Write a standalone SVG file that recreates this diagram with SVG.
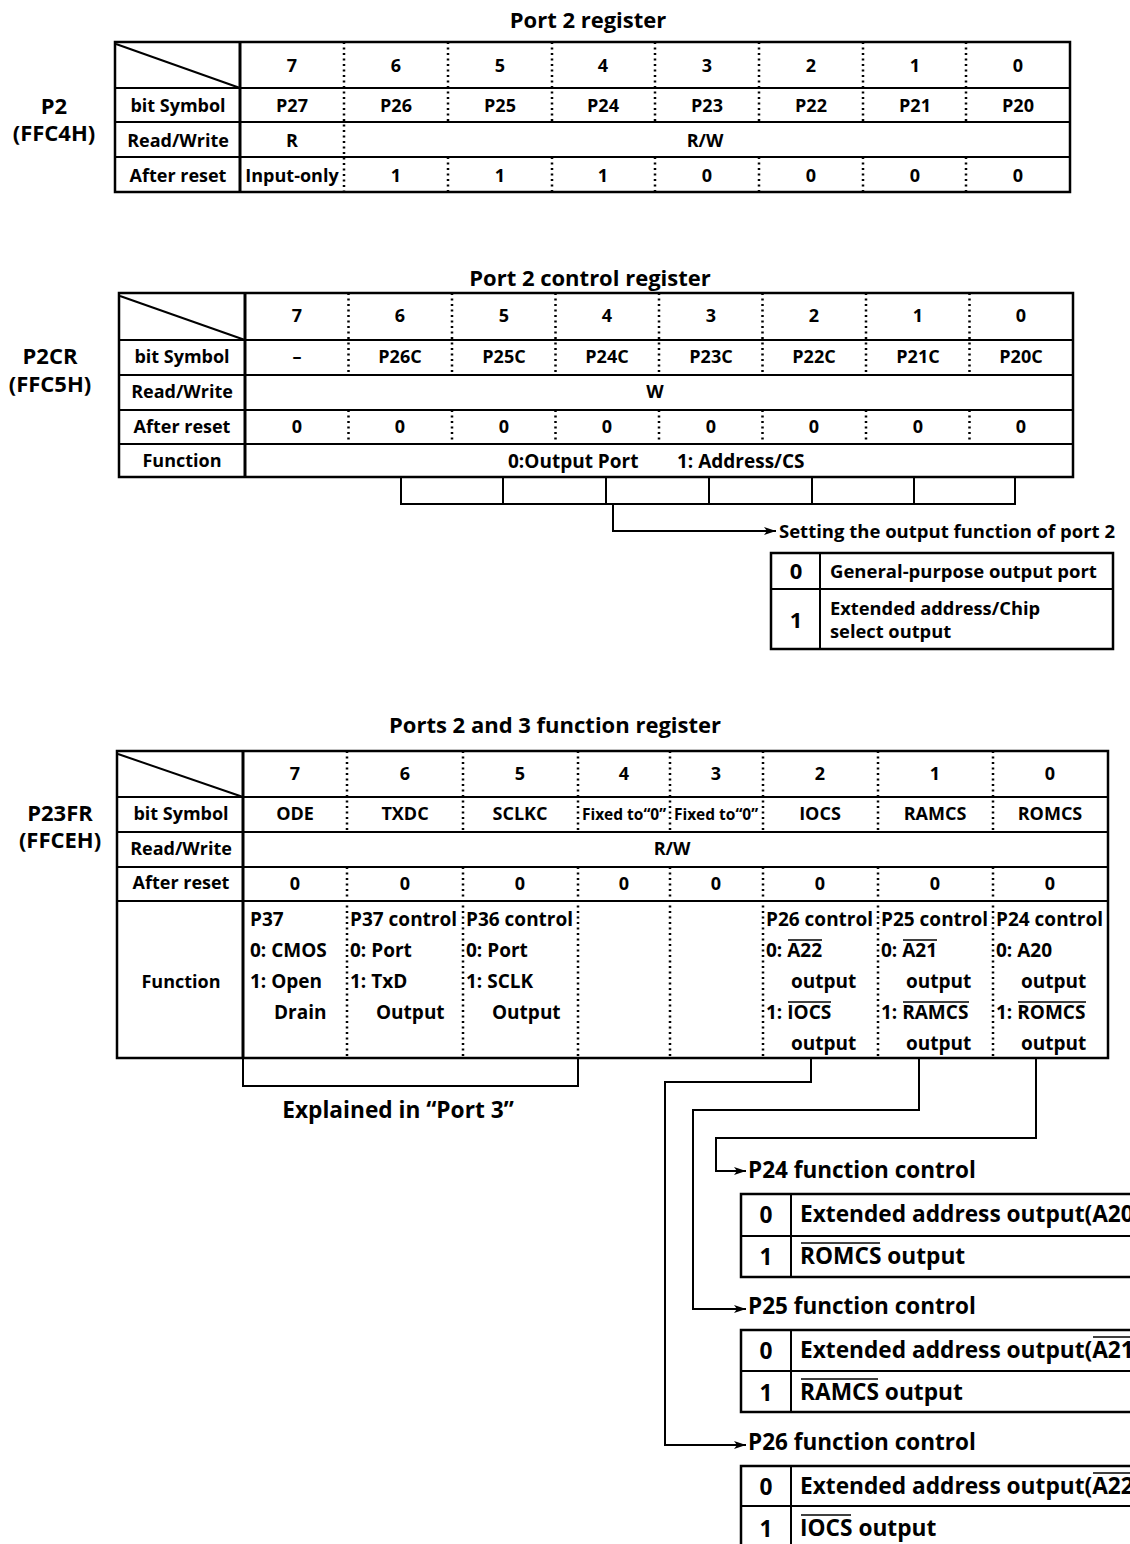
<svg xmlns="http://www.w3.org/2000/svg" width="1130" height="1544" viewBox="0 0 1130 1544">
<style>
text { font-family: "Open Sans", "Liberation Sans", sans-serif; font-weight: 700; fill: #000; }
.c { text-anchor: middle; }
.f18 { font-size: 18px; }
.f19 { font-size: 19px; }
.lbl { font-size: 22px; }
.f22 { font-size: 22px; }
.f23 { font-size: 22.7px; }
.fx { font-size: 15.5px; }
.box { fill: #fff; stroke: #000; stroke-width: 2.5; }
.ln { stroke: #000; stroke-width: 2; fill: none; }
.thk { stroke: #000; stroke-width: 3; fill: none; }
.dot { stroke: #000; stroke-width: 2.5; stroke-dasharray: 2 3.5; fill: none; }
.ov { stroke: #000; stroke-width: 1.6; fill: none; }
</style>
<defs>
<marker id="arr" markerWidth="14" markerHeight="8" refX="12" refY="4" orient="auto" markerUnits="userSpaceOnUse">
<path d="M0,0 L12,4 L0,8 L3,4 z" fill="#000"/>
</marker>
</defs>

<g id="p2-register">
<text class="c f22" x="588" y="28">Port 2 register</text>
<text class="c lbl" x="54" y="114">P2</text>
<text class="c lbl" x="54" y="141">(FFC4H)</text>
<rect class="box" x="115" y="42" width="955" height="150"/>
<path class="ln" d="M115,88H1070M115,122H1070M115,157H1070"/>
<path class="thk" d="M240,42V192"/>
<path class="ln" d="M116,44L240,88"/>
<path class="dot" d="M344,42V192M448,42V122M552,42V122M655,42V122M759,42V122M863,42V122M966,42V122M448,157V192M552,157V192M655,157V192M759,157V192M863,157V192M966,157V192"/>
<g class="f18">
<text class="c" x="178" y="112">bit Symbol</text>
<text class="c" x="178" y="147">Read/Write</text>
<text class="c" x="178" y="182">After reset</text>
<text class="c" x="292" y="72">7</text><text class="c" x="396" y="72">6</text><text class="c" x="500" y="72">5</text><text class="c" x="603" y="72">4</text><text class="c" x="707" y="72">3</text><text class="c" x="811" y="72">2</text><text class="c" x="915" y="72">1</text><text class="c" x="1018" y="72">0</text>
<text class="c" x="292" y="112">P27</text><text class="c" x="396" y="112">P26</text><text class="c" x="500" y="112">P25</text><text class="c" x="603" y="112">P24</text><text class="c" x="707" y="112">P23</text><text class="c" x="811" y="112">P22</text><text class="c" x="915" y="112">P21</text><text class="c" x="1018" y="112">P20</text>
<text class="c" x="292" y="147">R</text><text class="c" x="705" y="147">R/W</text>
<text class="c" x="292" y="182">Input-only</text><text class="c" x="396" y="182">1</text><text class="c" x="500" y="182">1</text><text class="c" x="603" y="182">1</text><text class="c" x="707" y="182">0</text><text class="c" x="811" y="182">0</text><text class="c" x="915" y="182">0</text><text class="c" x="1018" y="182">0</text>
</g>
</g>

<g id="p2cr-register">
<text class="c f22" x="590" y="286">Port 2 control register</text>
<text class="c lbl" x="50" y="364">P2CR</text>
<text class="c lbl" x="50" y="392">(FFC5H)</text>
<rect class="box" x="119" y="293" width="954" height="184"/>
<path class="ln" d="M119,340H1073M119,375H1073M119,410H1073M119,444H1073"/>
<path class="thk" d="M245,293V477"/>
<path class="ln" d="M120,296L245,340"/>
<path class="dot" d="M348.5,293V375M452,293V375M555.5,293V375M659,293V375M762.5,293V375M866,293V375M969.5,293V375M348.5,410V444M452,410V444M555.5,410V444M659,410V444M762.5,410V444M866,410V444M969.5,410V444"/>
<g class="f18">
<text class="c" x="182" y="363">bit Symbol</text>
<text class="c" x="182" y="398">Read/Write</text>
<text class="c" x="182" y="433">After reset</text>
<text class="c" x="182" y="467">Function</text>
<text class="c" x="297" y="322">7</text><text class="c" x="400" y="322">6</text><text class="c" x="504" y="322">5</text><text class="c" x="607" y="322">4</text><text class="c" x="711" y="322">3</text><text class="c" x="814" y="322">2</text><text class="c" x="918" y="322">1</text><text class="c" x="1021" y="322">0</text>
<text class="c" x="297" y="363">–</text><text class="c" x="400" y="363">P26C</text><text class="c" x="504" y="363">P25C</text><text class="c" x="607" y="363">P24C</text><text class="c" x="711" y="363">P23C</text><text class="c" x="814" y="363">P22C</text><text class="c" x="918" y="363">P21C</text><text class="c" x="1021" y="363">P20C</text>
<text class="c" x="655" y="398">W</text>
<text class="c" x="297" y="433">0</text><text class="c" x="400" y="433">0</text><text class="c" x="504" y="433">0</text><text class="c" x="607" y="433">0</text><text class="c" x="711" y="433">0</text><text class="c" x="814" y="433">0</text><text class="c" x="918" y="433">0</text><text class="c" x="1021" y="433">0</text>
</g>
<text class="f19" x="508" y="468">0:Output Port</text>
<text class="f19" x="677" y="468">1: Address/CS</text>
</g>

<g id="p2cr-legend">
<text x="779" y="538" style="font-size:18.5px">Setting the output function of port 2</text>
<rect class="box" x="771" y="553" width="342" height="96"/>
<path class="ln" d="M771,589H1113M820,553V649"/>
<text class="c f22" x="796" y="579">0</text>
<text x="830" y="578" style="font-size:18.5px">General-purpose output port</text>
<text class="c f22" x="796" y="628">1</text>
<text x="830" y="615" style="font-size:18.3px">Extended address/Chip</text>
<text x="830" y="638" style="font-size:18.3px">select output</text>
</g>

<g id="p23fr-register">
<text class="c f22" x="555" y="733">Ports 2 and 3 function register</text>
<text class="c lbl" x="60" y="821">P23FR</text>
<text class="c lbl" x="60" y="848">(FFCEH)</text>
<rect class="box" x="117" y="751" width="991" height="307"/>
<path class="ln" d="M117,797H1108M117,832H1108M117,867H1108M117,901H1108"/>
<path class="thk" d="M243,751V1058"/>
<path class="ln" d="M118,754L243,797"/>
<path class="dot" d="M347,751V832M463,751V832M578,751V832M670,751V832M763,751V832M878,751V832M993,751V832M347,867V1058M463,867V1058M578,867V1058M670,867V1058M763,867V1058M878,867V1058M993,867V1058"/>
<g class="f18">
<text class="c" x="181" y="820">bit Symbol</text>
<text class="c" x="181" y="855">Read/Write</text>
<text class="c" x="181" y="889">After reset</text>
<text class="c" x="181" y="988">Function</text>
<text class="c" x="295" y="780">7</text><text class="c" x="405" y="780">6</text><text class="c" x="520" y="780">5</text><text class="c" x="624" y="780">4</text><text class="c" x="716" y="780">3</text><text class="c" x="820" y="780">2</text><text class="c" x="935" y="780">1</text><text class="c" x="1050" y="780">0</text>
<text class="c" x="295" y="820">ODE</text><text class="c" x="405" y="820">TXDC</text><text class="c" x="520" y="820">SCLKC</text>
<text class="c" x="820" y="820">IOCS</text><text class="c" x="935" y="820">RAMCS</text><text class="c" x="1050" y="820">ROMCS</text>
<text class="c" x="672" y="855">R/W</text>
<text class="c" x="295" y="890">0</text><text class="c" x="405" y="890">0</text><text class="c" x="520" y="890">0</text><text class="c" x="624" y="890">0</text><text class="c" x="716" y="890">0</text><text class="c" x="820" y="890">0</text><text class="c" x="935" y="890">0</text><text class="c" x="1050" y="890">0</text>
</g>
<text class="c fx" x="624" y="820">Fixed to“0”</text>
<text class="c fx" x="716" y="820">Fixed to“0”</text>
<g class="f19">
<text x="250" y="926">P37</text>
<text x="250" y="957">0: CMOS</text>
<text x="250" y="988">1: Open</text>
<text x="274" y="1019">Drain</text>
<text x="350" y="926">P37 control</text>
<text x="350" y="957">0: Port</text>
<text x="350" y="988">1: TxD</text>
<text x="376" y="1019">Output</text>
<text x="466" y="926">P36 control</text>
<text x="466" y="957">0: Port</text>
<text x="466" y="988">1: SCLK</text>
<text x="492" y="1019">Output</text>
<text x="766" y="926">P26 control</text>
<text x="766" y="957">0: A22</text>
<text x="791" y="988">output</text>
<text x="766" y="1019">1: IOCS</text>
<text x="791" y="1050">output</text>
<text x="881" y="926">P25 control</text>
<text x="881" y="957">0: A21</text>
<text x="906" y="988">output</text>
<text x="881" y="1019">1: RAMCS</text>
<text x="906" y="1050">output</text>
<text x="996" y="926">P24 control</text>
<text x="996" y="957">0: A20</text>
<text x="1021" y="988">output</text>
<text x="996" y="1019">1: ROMCS</text>
<text x="1021" y="1050">output</text>
</g>
<path class="ov" d="M788,940H822M788,1002H831M903,940H937M903,1002H969M1018,1002H1086"/>
<text class="c f23" x="398" y="1118">Explained in “Port 3”</text>
</g>

<g id="p24-legend">
<text x="748" y="1178" style="font-size:22.5px">P24 function control</text>
<rect class="box" x="741" y="1194" width="420" height="83"/>
<path class="ln" d="M741,1236H1140M791,1194V1277"/>
<text class="c f23" x="766" y="1223">0</text>
<text class="f23" x="800" y="1222">Extended address output(A20</text>
<text class="c f23" x="766" y="1265">1</text>
<text class="f23" x="800" y="1264">ROMCS output</text>
<path class="ov" d="M801,1243H880"/>
</g>

<g id="p25-legend">
<text x="748" y="1314" style="font-size:22.5px">P25 function control</text>
<rect class="box" x="741" y="1330" width="420" height="82"/>
<path class="ln" d="M741,1371H1140M791,1330V1412"/>
<text class="c f23" x="766" y="1359">0</text>
<text class="f23" x="800" y="1358">Extended address output(A21</text>
<text class="c f23" x="766" y="1401">1</text>
<text class="f23" x="800" y="1400">RAMCS output</text>
<path class="ov" d="M1093,1337H1140M801,1379H878"/>
</g>

<g id="p26-legend">
<text x="748" y="1450" style="font-size:22.5px">P26 function control</text>
<rect class="box" x="741" y="1466" width="420" height="90"/>
<path class="ln" d="M741,1506H1140M791,1466V1556"/>
<text class="c f23" x="766" y="1495">0</text>
<text class="f23" x="800" y="1494">Extended address output(A22</text>
<text class="c f23" x="766" y="1537">1</text>
<text class="f23" x="800" y="1536">IOCS output</text>
<path class="ov" d="M1093,1473H1140M801,1515H851"/>
</g>

<g id="connectors">
<path class="ln" d="M401,477V504H1015V477M503,477V504M606,477V504M709,477V504M812,477V504M914,477V504"/>
<path class="ln" d="M613,504V531H776" marker-end="url(#arr)"/>
<path class="ln" d="M243,1058V1086H578V1058"/>
<path class="ln" d="M811,1058V1082H665V1445H746" marker-end="url(#arr)"/>
<path class="ln" d="M919,1058V1110H693V1309H746" marker-end="url(#arr)"/>
<path class="ln" d="M1036,1058V1138H716V1171H746" marker-end="url(#arr)"/>
</g>
</svg>
